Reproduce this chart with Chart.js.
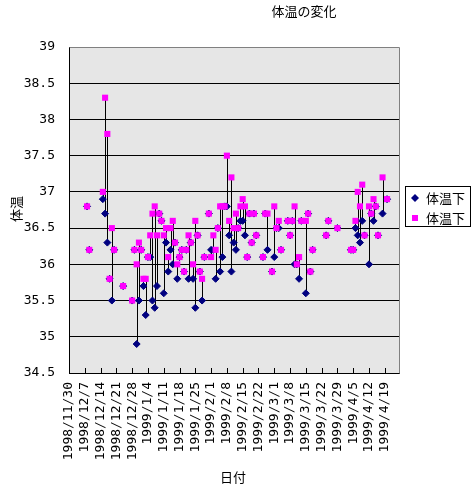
<!DOCTYPE html>
<html>
<head>
<meta charset="utf-8">
<script src="https://cdn.jsdelivr.net/npm/chart.js@4.4.1/dist/chart.umd.min.js"></script>
<style>
  html, body { margin: 0; padding: 0; background: #fff; }
</style>
</head>
<body>
<canvas id="tempChart" width="473" height="490"></canvas>
<script>
const chartTitle = '体温の変化';
const xAxisTitle = '日付';
const yAxisTitle = '体温';
const seriesNames = ['体温下', '体温下'];

// measurement dates
const dates = [
    '1998/12/8', '1998/12/9', '1998/12/15', '1998/12/16', '1998/12/17', '1998/12/18', '1998/12/19', '1998/12/20',
    '1998/12/24', '1998/12/28', '1998/12/29', '1998/12/30', '1998/12/31',
    '1999/1/1', '1999/1/2', '1999/1/3', '1999/1/4', '1999/1/5', '1999/1/6', '1999/1/7', '1999/1/8', '1999/1/9',
    '1999/1/10', '1999/1/11', '1999/1/12', '1999/1/13', '1999/1/14', '1999/1/15', '1999/1/16', '1999/1/17',
    '1999/1/18', '1999/1/19', '1999/1/20', '1999/1/21', '1999/1/22', '1999/1/23', '1999/1/24', '1999/1/25',
    '1999/1/26', '1999/1/27', '1999/1/28', '1999/1/29', '1999/1/31',
    '1999/2/1', '1999/2/2', '1999/2/3', '1999/2/4', '1999/2/5', '1999/2/6', '1999/2/7', '1999/2/8', '1999/2/9',
    '1999/2/10', '1999/2/11', '1999/2/12', '1999/2/13', '1999/2/14', '1999/2/15', '1999/2/16', '1999/2/17',
    '1999/2/18', '1999/2/19', '1999/2/20', '1999/2/21', '1999/2/24', '1999/2/25', '1999/2/26', '1999/2/28',
    '1999/3/1', '1999/3/2', '1999/3/3', '1999/3/4', '1999/3/7', '1999/3/8', '1999/3/9', '1999/3/10',
    '1999/3/11', '1999/3/12', '1999/3/13', '1999/3/15', '1999/3/16', '1999/3/17', '1999/3/18',
    '1999/3/24', '1999/3/25', '1999/3/29',
    '1999/4/4', '1999/4/5', '1999/4/6', '1999/4/7', '1999/4/8', '1999/4/9', '1999/4/10', '1999/4/12',
    '1999/4/13', '1999/4/14', '1999/4/15', '1999/4/16', '1999/4/18', '1999/4/20'
];

// navy diamonds
const lowTemps = [
    36.8, 36.2, 36.9, 36.7, 36.3, 35.8, 35.5, 36.2,
    35.7, 35.5, 36.2, 34.9, 35.5,
    36.2, 35.7, 35.3, 36.1, 36.1, 35.5, 35.4, 35.7, 36.7,
    36.6, 35.6, 36.3, 35.9, 36.2, 36.0, 36.3, 35.8,
    36.1, 36.2, 35.9, 36.2, 35.8, 36.3, 35.8, 35.4,
    36.4, 35.9, 35.5, 36.1, 36.7,
    36.2, 36.2, 35.8, 36.5, 35.9, 36.1, 36.8, 36.8, 36.4,
    35.9, 36.3, 36.2, 36.5, 36.6, 36.6, 36.4, 36.1,
    36.7, 36.3, 36.7, 36.4, 36.1, 36.7, 36.2, 35.9,
    36.1, 36.5, 36.5, 36.2, 36.6, 36.4, 36.6, 36.0,
    36.0, 35.8, 36.6, 35.6, 36.7, 35.9, 36.2,
    36.4, 36.6, 36.5,
    36.2, 36.2, 36.5, 36.4, 36.3, 36.6, 36.4, 36.0,
    36.7, 36.6, 36.8, 36.4, 36.7, 36.9
];

// magenta squares
const highTemps = [
    36.8, 36.2, 37.0, 38.3, 37.8, 35.8, 36.5, 36.2,
    35.7, 35.5, 36.2, 36.0, 36.3,
    36.2, 35.8, 35.8, 36.1, 36.4, 36.7, 36.8, 36.4, 36.7,
    36.6, 36.4, 36.5, 36.1, 36.5, 36.6, 36.3, 36.0,
    36.1, 36.2, 35.9, 36.2, 36.4, 36.3, 36.0, 36.6,
    36.4, 35.9, 35.8, 36.1, 36.7,
    36.1, 36.4, 36.2, 36.5, 36.8, 36.8, 36.8, 37.5, 36.6,
    37.2, 36.5, 36.7, 36.5, 36.8, 36.9, 36.8, 36.1,
    36.7, 36.3, 36.7, 36.4, 36.1, 36.7, 36.7, 35.9,
    36.8, 36.5, 36.6, 36.2, 36.6, 36.4, 36.6, 36.8,
    36.0, 36.1, 36.6, 36.6, 36.7, 35.9, 36.2,
    36.4, 36.6, 36.5,
    36.2, 36.2, 36.6, 37.0, 36.8, 37.1, 36.4, 36.8,
    36.7, 36.9, 36.8, 36.4, 37.2, 36.9
];

const xTickLabels = [
    '1998/11/30', '1998/12/7', '1998/12/14', '1998/12/21', '1998/12/28',
    '1999/1/4', '1999/1/11', '1999/1/18', '1999/1/25',
    '1999/2/1', '1999/2/8', '1999/2/15', '1999/2/22',
    '1999/3/1', '1999/3/8', '1999/3/15', '1999/3/22', '1999/3/29',
    '1999/4/5', '1999/4/12', '1999/4/19'
];
const xAxisEnd = '1999/4/25';
const yMin = 34.5, yMax = 39, yStep = 0.5;

// days since the first axis date
const startDate = xTickLabels[0];
function dayOf(s) {
    const [y, m, d] = s.split('/').map(Number);
    const [y0, m0, d0] = startDate.split('/').map(Number);
    return (Date.UTC(y, m - 1, d) - Date.UTC(y0, m0 - 1, d0)) / 86400000;
}
const xTickDays = xTickLabels.map(dayOf);

const cjkFont = '"Noto Sans CJK JP", sans-serif';
const numFont = '"DejaVu Sans Mono", monospace';

const chartDecor = {
    id: 'chartDecor',
    beforeDraw(chart) {
        const { ctx, chartArea: a } = chart;
        ctx.save();
        ctx.fillStyle = '#e6e6e6';
        ctx.fillRect(a.left, a.top, a.right - a.left, a.bottom - a.top);
        ctx.restore();
    },
    beforeDatasetsDraw(chart) {
        // high-low lines
        const { ctx, scales: { x, y } } = chart;
        ctx.save();
        ctx.strokeStyle = '#000';
        ctx.lineWidth = 1;
        ctx.beginPath();
        dates.forEach((d, i) => {
            const px = Math.round(x.getPixelForValue(dayOf(d))) + 0.5;
            ctx.moveTo(px, y.getPixelForValue(lowTemps[i]));
            ctx.lineTo(px, y.getPixelForValue(highTemps[i]));
        });
        ctx.stroke();
        ctx.restore();
    },
    afterDraw(chart) {
        const { ctx, chartArea: a, scales: { x, y } } = chart;
        ctx.save();
        // top/right frame
        ctx.strokeStyle = '#808080';
        ctx.lineWidth = 1;
        ctx.beginPath();
        ctx.moveTo(Math.round(a.left) + 0.5, Math.round(a.top) + 0.5);
        ctx.lineTo(Math.round(a.right) + 0.5, Math.round(a.top) + 0.5);
        ctx.lineTo(Math.round(a.right) + 0.5, Math.round(a.bottom) + 0.5);
        ctx.stroke();
        // inside tick marks
        ctx.strokeStyle = '#000';
        ctx.beginPath();
        xTickDays.forEach(v => {
            const px = Math.round(x.getPixelForValue(v)) + 0.5;
            ctx.moveTo(px, a.bottom);
            ctx.lineTo(px, a.bottom - 5);
        });
        ctx.stroke();

        // titles
        ctx.fillStyle = '#000';
        ctx.font = '13px ' + cjkFont;
        ctx.textAlign = 'center';
        ctx.textBaseline = 'middle';
        ctx.fillText(chartTitle, 304, 11);
        ctx.fillText(xAxisTitle, 233, 477);
        ctx.save();
        ctx.translate(16, 209);
        ctx.rotate(-Math.PI / 2);
        ctx.fillText(yAxisTitle, 0, 0);
        ctx.restore();

        // legend
        ctx.strokeStyle = '#000';
        ctx.strokeRect(405.5, 186.5, 65, 40);
        chart.data.datasets.forEach((ds, i) => {
            const cy = 198 + i * 20;
            ctx.fillStyle = ds.backgroundColor;
            ctx.beginPath();
            if (ds.pointStyle === 'rectRot') {
                ctx.moveTo(415, cy - 4);
                ctx.lineTo(419, cy);
                ctx.lineTo(415, cy + 4);
                ctx.lineTo(411, cy);
                ctx.closePath();
            } else {
                ctx.rect(412, cy - 3, 6, 6);
            }
            ctx.fill();
            ctx.fillStyle = '#000';
            ctx.textAlign = 'left';
            ctx.fillText(ds.label, 426, cy);
        });
        ctx.restore();
    }
};

new Chart(document.getElementById('tempChart'), {
    type: 'scatter',
    data: {
        datasets: [{
            label: seriesNames[0],
            data: dates.map((d, i) => ({ x: dayOf(d), y: lowTemps[i] })),
            pointStyle: 'rectRot',
            pointRadius: 3.5,
            borderWidth: 1,
            backgroundColor: '#000080',
            borderColor: '#000080',
            order: 2
        }, {
            label: seriesNames[1],
            data: dates.map((d, i) => ({ x: dayOf(d), y: highTemps[i] })),
            pointStyle: 'rect',
            pointRadius: 4.3,
            borderWidth: 0,
            backgroundColor: '#ff00ff',
            borderColor: '#ff00ff',
            order: 1
        }]
    },
    options: {
        responsive: false,
        animation: false,
        events: [],
        layout: { padding: { left: 0, top: 47, right: 74, bottom: 0 } },
        plugins: {
            legend: { display: false },
            tooltip: { enabled: false }
        },
        scales: {
            x: {
                type: 'linear',
                min: 0,
                max: dayOf(xAxisEnd) + 0.3,
                afterBuildTicks: scale => { scale.ticks = xTickDays.map(v => ({ value: v })); },
                afterFit: scale => { scale.height = 117; },
                grid: { drawOnChartArea: false, drawTicks: false },
                border: { display: true, color: '#000', width: 1 },
                ticks: {
                    autoSkip: false,
                    minRotation: 90,
                    maxRotation: 90,
                    padding: 9,
                    color: '#000',
                    font: { family: numFont, size: 13 },
                    callback: v => xTickLabels[xTickDays.indexOf(v)]
                }
            },
            y: {
                min: yMin,
                max: yMax,
                afterFit: scale => { scale.width = 69; },
                grid: {
                    drawTicks: false,
                    color: c => (c.tick && c.tick.value === yMax) ? '#808080' : '#000',
                    lineWidth: 1
                },
                border: { display: true, color: '#000', width: 1 },
                ticks: {
                    stepSize: yStep,
                    padding: 14,
                    color: '#000',
                    font: { family: numFont, size: 13 },
                    callback: v => String(v)
                }
            }
        }
    },
    plugins: [chartDecor]
});
</script>
</body>
</html>
